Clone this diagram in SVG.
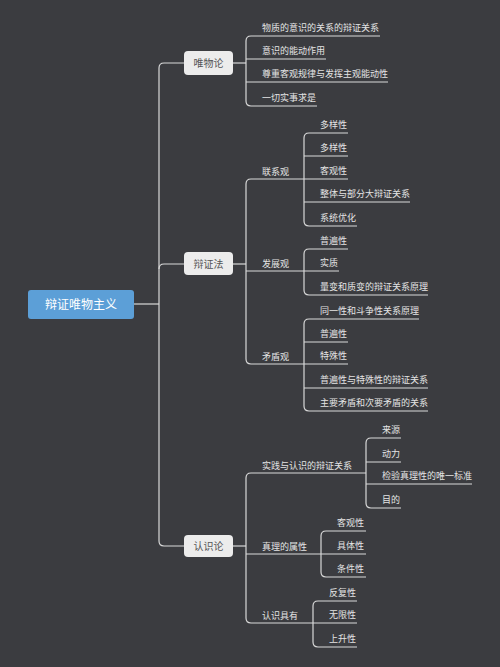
<svg xmlns="http://www.w3.org/2000/svg" width="500" height="667" viewBox="0 0 500 667">
<style>
.ln{fill:none;stroke:#d9d9d9;stroke-width:1.2}
.t{font-family:"Noto Sans CJK SC","Noto Sans",sans-serif;font-size:9px;fill:#e4e4e4}
.bx{fill:#ececec;stroke:none}
.bt{font-family:"Noto Sans CJK SC","Noto Sans",sans-serif;font-size:10px;fill:#555;text-anchor:middle}
</style>
<rect x="0" y="0" width="500" height="667" fill="#3b3c40"/>
<g id="connectors">
<!-- trunk -->
<path class="ln" d="M134 304 H159"/>
<path class="ln" d="M184 63 H164 Q159 63 159 68 V541 Q159 546 164 546 H184"/>
<path class="ln" d="M159 269 Q159 264 164 264 H184"/>
<!-- 唯物论 -->
<path class="ln" d="M233 63 H246"/>
<path class="ln" d="M246 41 V101"/>
<path class="ln" d="M246 41 Q246 36 251 36 H380"/>
<path class="ln" d="M246 59 H326"/>
<path class="ln" d="M246 82 H388"/>
<path class="ln" d="M246 101 Q246 106 251 106 H317"/>
<!-- 辩证法 -->
<path class="ln" d="M233 264 H246"/>
<path class="ln" d="M246 184 V359"/>
<path class="ln" d="M246 184 Q246 179 251 179 H304"/>
<path class="ln" d="M246 271 H304"/>
<path class="ln" d="M246 359 Q246 364 251 364 H304"/>
<!-- 联系观 -->
<path class="ln" d="M304 138 V221"/>
<path class="ln" d="M304 138 Q304 133 309 133 H348"/>
<path class="ln" d="M304 156 H348"/>
<path class="ln" d="M304 179 H348"/>
<path class="ln" d="M304 202 H410"/>
<path class="ln" d="M304 221 Q304 226 309 226 H357"/>
<!-- 发展观 -->
<path class="ln" d="M304 254 V290"/>
<path class="ln" d="M304 254 Q304 249 309 249 H348"/>
<path class="ln" d="M304 271 H339"/>
<path class="ln" d="M304 290 Q304 295 309 295 H428"/>
<!-- 矛盾观 -->
<path class="ln" d="M304 324 V406"/>
<path class="ln" d="M304 324 Q304 319 309 319 H419"/>
<path class="ln" d="M304 342 H348"/>
<path class="ln" d="M304 364 H348"/>
<path class="ln" d="M304 388 H428"/>
<path class="ln" d="M304 406 Q304 411 309 411 H428"/>
<!-- 认识论 -->
<path class="ln" d="M233 546 H246"/>
<path class="ln" d="M246 478 V618"/>
<path class="ln" d="M246 478 Q246 473 251 473 H366"/>
<path class="ln" d="M246 554 H321"/>
<path class="ln" d="M246 618 Q246 623 251 623 H313"/>
<!-- 实践与认识 -->
<path class="ln" d="M366 443 V503"/>
<path class="ln" d="M366 443 Q366 438 371 438 H401"/>
<path class="ln" d="M366 462 H401"/>
<path class="ln" d="M366 484 H472"/>
<path class="ln" d="M366 503 Q366 508 371 508 H401"/>
<!-- 真理的属性 -->
<path class="ln" d="M321 536 V572"/>
<path class="ln" d="M321 536 Q321 531 326 531 H366"/>
<path class="ln" d="M321 554 H366"/>
<path class="ln" d="M321 572 Q321 577 326 577 H366"/>
<!-- 认识具有 -->
<path class="ln" d="M313 606 V642"/>
<path class="ln" d="M313 606 Q313 601 318 601 H357"/>
<path class="ln" d="M313 623 H357"/>
<path class="ln" d="M313 642 Q313 647 318 647 H357"/>
</g>
<g id="root">
<rect x="28" y="290" width="106" height="29" rx="3" fill="#5c9fd7"/>
<text x="81" y="308.5" font-family="Noto Sans CJK SC, sans-serif" font-size="12" fill="#ffffff" text-anchor="middle">辩证唯物主义</text>
</g>
<g id="n-weiwulun">
<rect class="bx" x="184" y="51" width="49" height="24" rx="4"/>
<text class="bt" x="208.5" y="66.5">唯物论</text>
</g>
<g id="n-wl-1"><text class="t" x="262" y="31">物质的意识的关系的辩证关系</text></g>
<g id="n-wl-2"><text class="t" x="262" y="54">意识的能动作用</text></g>
<g id="n-wl-3"><text class="t" x="262" y="77">尊重客观规律与发挥主观能动性</text></g>
<g id="n-wl-4"><text class="t" x="262" y="101">一切实事求是</text></g>
<g id="n-bianzhengfa">
<rect class="bx" x="184" y="252" width="49" height="23" rx="4"/>
<text class="bt" x="208.5" y="267.5">辩证法</text>
</g>
<g id="n-lianxi"><text class="t" x="262" y="174.5">联系观</text></g>
<g id="n-lx-1"><text class="t" x="320" y="128">多样性</text></g>
<g id="n-lx-2"><text class="t" x="320" y="151">多样性</text></g>
<g id="n-lx-3"><text class="t" x="320" y="174">客观性</text></g>
<g id="n-lx-4"><text class="t" x="320" y="197">整体与部分大辩证关系</text></g>
<g id="n-lx-5"><text class="t" x="320" y="221">系统优化</text></g>
<g id="n-fazhan"><text class="t" x="262" y="266.5">发展观</text></g>
<g id="n-fz-1"><text class="t" x="320" y="244">普遍性</text></g>
<g id="n-fz-2"><text class="t" x="320" y="266">实质</text></g>
<g id="n-fz-3"><text class="t" x="320" y="290">量变和质变的辩证关系原理</text></g>
<g id="n-maodun"><text class="t" x="262" y="359.5">矛盾观</text></g>
<g id="n-md-1"><text class="t" x="320" y="314">同一性和斗争性关系原理</text></g>
<g id="n-md-2"><text class="t" x="320" y="337">普遍性</text></g>
<g id="n-md-3"><text class="t" x="320" y="359">特殊性</text></g>
<g id="n-md-4"><text class="t" x="320" y="383">普遍性与特殊性的辩证关系</text></g>
<g id="n-md-5"><text class="t" x="320" y="406">主要矛盾和次要矛盾的关系</text></g>
<g id="n-renshilun">
<rect class="bx" x="184" y="535" width="49" height="22" rx="4"/>
<text class="bt" x="208.5" y="549.5">认识论</text>
</g>
<g id="n-shijian"><text class="t" x="262" y="468.5">实践与认识的辩证关系</text></g>
<g id="n-sj-1"><text class="t" x="382" y="433">来源</text></g>
<g id="n-sj-2"><text class="t" x="382" y="457">动力</text></g>
<g id="n-sj-3"><text class="t" x="382" y="479">检验真理性的唯一标准</text></g>
<g id="n-sj-4"><text class="t" x="382" y="503">目的</text></g>
<g id="n-zhenli"><text class="t" x="262" y="549.5">真理的属性</text></g>
<g id="n-zl-1"><text class="t" x="337" y="526">客观性</text></g>
<g id="n-zl-2"><text class="t" x="337" y="549">具体性</text></g>
<g id="n-zl-3"><text class="t" x="337" y="572">条件性</text></g>
<g id="n-juyou"><text class="t" x="262" y="618.5">认识具有</text></g>
<g id="n-jy-1"><text class="t" x="329" y="596">反复性</text></g>
<g id="n-jy-2"><text class="t" x="329" y="618">无限性</text></g>
<g id="n-jy-3"><text class="t" x="329" y="642">上升性</text></g>
</svg>
